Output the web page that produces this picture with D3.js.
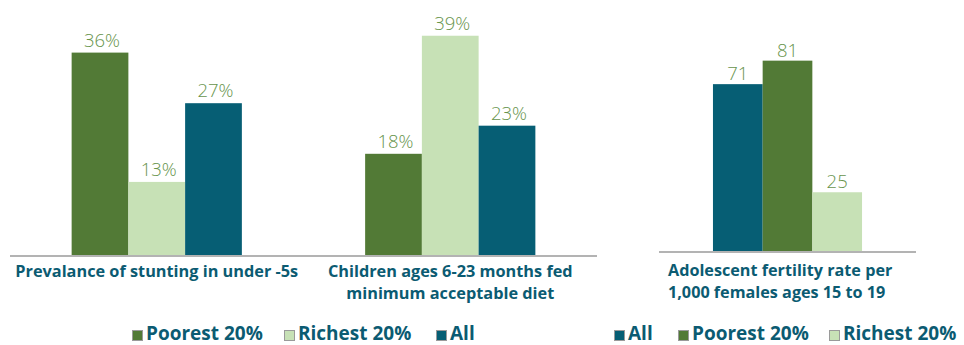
<!DOCTYPE html>
<html><head><meta charset="utf-8">
<script src="https://cdn.jsdelivr.net/npm/d3@7"></script>
<style>
body{margin:0;background:#fff;}
svg{display:block;}
</style></head>
<body>
<svg id="c" width="964" height="345"></svg>
<script>
// ---- data ----
const leftCategories = [
  ["Prevalance of stunting in under -5s"],
  ["Children ages 6-23 months fed", "minimum acceptable diet"]
];
const leftSeries = ["Poorest 20%", "Richest 20%", "All"];
const leftValues = [
  [36, 13, 27],
  [18, 39, 23]
];
const rightCategory = ["Adolescent fertility rate per", "1,000 females ages 15 to 19"];
const rightSeries = ["All", "Poorest 20%", "Richest 20%"];
const rightValues = [71, 81, 25];

const colors = {"Poorest 20%": "#527a36", "Richest 20%": "#c7e1b6", "All": "#065e74"};
const textTeal = "#0b5b72";
const valueColor = "#67944c";
const axisGray = "#b3b3b3";

const svg = d3.select("#c");

// ---- left chart ----
const x0 = d3.scaleBand().domain(d3.range(leftCategories.length)).range([10, 597])
  .paddingInner(0.42).paddingOuter(0.21);
const x1 = d3.scaleBand().domain(leftSeries).range([0, x0.bandwidth()]);
const yL = d3.scaleLinear().domain([0, 45]).range([255, 2]);

const gL = svg.append("g");
leftValues.forEach((vals, i) => {
  const g = gL.append("g").attr("transform", `translate(${x0(i)},0)`);
  vals.forEach((v, j) => {
    const s = leftSeries[j];
    g.append("rect").attr("x", x1(s)).attr("y", yL(v))
      .attr("width", x1.bandwidth()).attr("height", yL(0) - yL(v))
      .attr("fill", colors[s]);
    g.append("text").attr("x", x1(s) + x1.bandwidth() / 2 + 2).attr("y", yL(v) - 6)
      .attr("text-anchor", "middle").attr("fill", valueColor)
      .style("font-family", "'Open Sans', sans-serif").style("font-weight", 300)
      .style("font-size", "18.5px").text(v + "%");
  });
});
gL.append("line").attr("x1", 10).attr("x2", 597).attr("y1", yL(0) + 1).attr("y2", yL(0) + 1)
  .attr("stroke", axisGray).attr("stroke-width", 2);
leftCategories.forEach((lines, i) => {
  lines.forEach((ln, k) => {
    gL.append("text").attr("text-anchor", "middle").attr("fill", textTeal)
      .style("font-family", "'Open Sans', sans-serif").style("font-weight", 700)
      .style("font-size", "16.3px")
      .attr("x", x0(i) + x0.bandwidth() / 2).attr("y", 277 + k * 22).text(ln);
  });
});

// ---- right chart ----
const xR = d3.scaleBand().domain([0]).range([659, 916]).paddingOuter(0.362).paddingInner(0);
const xR1 = d3.scaleBand().domain(rightSeries).range([0, xR.bandwidth()]);
const yR = d3.scaleLinear().domain([0, 100]).range([251, 16]);
const gR = svg.append("g").attr("transform", `translate(${xR(0)},0)`);
rightValues.forEach((v, j) => {
  const s = rightSeries[j];
  gR.append("rect").attr("x", xR1(s)).attr("y", yR(v))
    .attr("width", xR1.bandwidth()).attr("height", yR(0) - yR(v))
    .attr("fill", colors[s]);
  gR.append("text").attr("x", xR1(s) + xR1.bandwidth() / 2).attr("y", yR(v) - 4)
    .attr("text-anchor", "middle").attr("fill", valueColor)
    .style("font-family", "'Open Sans', sans-serif").style("font-weight", 300)
    .style("font-size", "18.5px").text(v);
});
svg.append("line").attr("x1", 659).attr("x2", 916).attr("y1", yR(0) + 1).attr("y2", yR(0) + 1)
  .attr("stroke", axisGray).attr("stroke-width", 2);
rightCategory.forEach((ln, k) => {
  svg.append("text").attr("text-anchor", "start").attr("fill", textTeal)
    .style("font-family", "'Open Sans', sans-serif").style("font-weight", 700)
    .style("font-size", "16.2px")
    .attr("x", 668).attr("y", 276 + k * 22).text(ln);
});

// ---- legends ----
function legend(items, positions) {
  items.forEach((s, i) => {
    const g = svg.append("g").attr("transform", `translate(${positions[i]},0)`);
    g.append("rect").attr("x", 0.5).attr("y", 330.5).attr("width", 10).attr("height", 10)
      .attr("fill", colors[s]).attr("stroke", "#9a9a9a").attr("stroke-width", 1);
    g.append("text").attr("x", 14).attr("y", 340).attr("fill", textTeal)
      .style("font-family", "'Open Sans', sans-serif").style("font-weight", 700)
      .style("font-size", "19px").text(s);
  });
}
legend(leftSeries, [132, 284, 436]);
legend(rightSeries, [614, 678, 829]);
</script>
</body></html>
